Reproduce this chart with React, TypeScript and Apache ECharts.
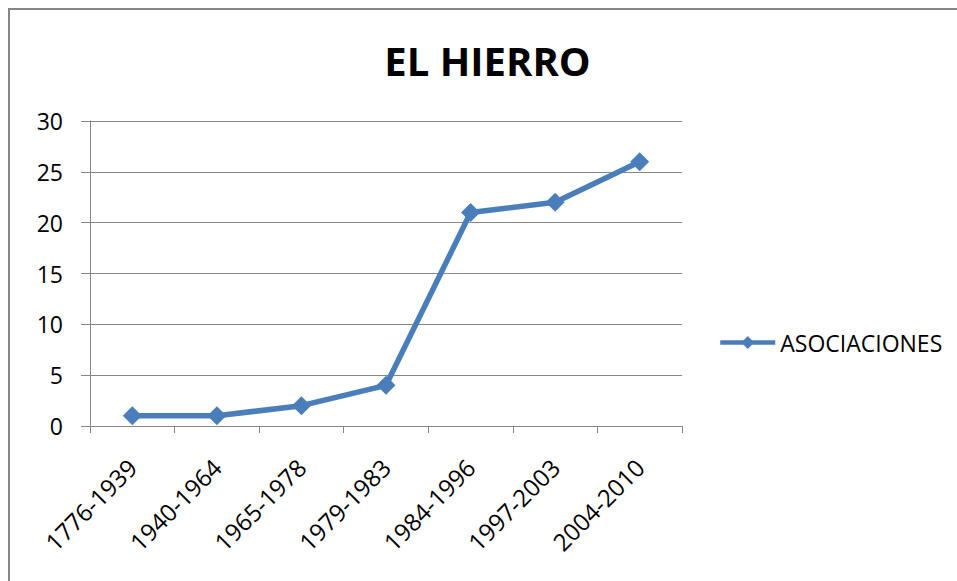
import React, { useEffect, useRef } from "react";
import * as echarts from "echarts";

const categories = ["1776-1939", "1940-1964", "1965-1978", "1979-1983", "1984-1996", "1997-2003", "2004-2010"];
const asociaciones = [1, 1, 2, 4, 21, 22, 26];
const titleText = "EL HIERRO";
const seriesName = "ASOCIACIONES";

const FONT = "'Open Sans', 'Noto Sans', sans-serif";
const GRAY = "#868686";
const BLUE = "#4A7EBB";

export default function App() {
  const ref = useRef<HTMLDivElement>(null);
  useEffect(() => {
    document.body.style.margin = "0";
    document.body.style.overflow = "hidden";
    if (!ref.current) return;
    const chart = echarts.init(ref.current, null, { renderer: "svg" });
    chart.setOption({
      animation: false,
      backgroundColor: "#fff",
      title: {
        text: titleText,
        left: 487.5,
        top: 40,
        textAlign: "center",
        padding: 0,
        textStyle: { fontFamily: FONT, fontWeight: "bold", fontSize: 40, color: "#000" },
      },
      legend: {
        left: 718,
        top: 331,
        padding: 0,
        itemWidth: 55,
        itemHeight: 16,
        lineStyle: { width: 4.5 },
        textStyle: { fontFamily: FONT, fontSize: 23, color: "#000" },
        data: [seriesName],
      },
      grid: { left: 90, top: 121, width: 592, height: 305, containLabel: false },
      xAxis: {
        type: "category",
        data: categories,
        boundaryGap: true,
        axisLine: { lineStyle: { color: GRAY, width: 1 } },
        axisTick: { show: true, length: 7, alignWithLabel: false, lineStyle: { color: GRAY } },
        axisLabel: {
          interval: 0,
          rotate: 45,
          margin: 37,
          fontFamily: FONT,
          fontSize: 24,
          color: "#000",
        },
        splitLine: { show: false },
      },
      yAxis: {
        type: "value",
        min: 0,
        max: 30,
        interval: 5,
        axisLine: { show: true, lineStyle: { color: GRAY, width: 1 } },
        axisTick: { show: true, length: 9, lineStyle: { color: GRAY } },
        axisLabel: { margin: 27, fontFamily: FONT, fontSize: 23, color: "#000" },
        splitLine: { show: true, lineStyle: { color: GRAY, width: 1 } },
      },
      graphic: [
        {
          type: "rect",
          shape: { x: 9, y: 9, width: 1200, height: 1200 },
          style: { fill: "none", stroke: GRAY, lineWidth: 2 },
          silent: true,
          z: 100,
        },
      ],
      series: [
        {
          name: seriesName,
          type: "line",
          data: asociaciones,
          symbol: "diamond",
          symbolSize: 19,
          lineStyle: { color: BLUE, width: 5.5 },
          itemStyle: { color: BLUE },
        },
      ],
    });
    return () => chart.dispose();
  }, []);
  return <div ref={ref} style={{ width: 957, height: 581 }} />;
}
